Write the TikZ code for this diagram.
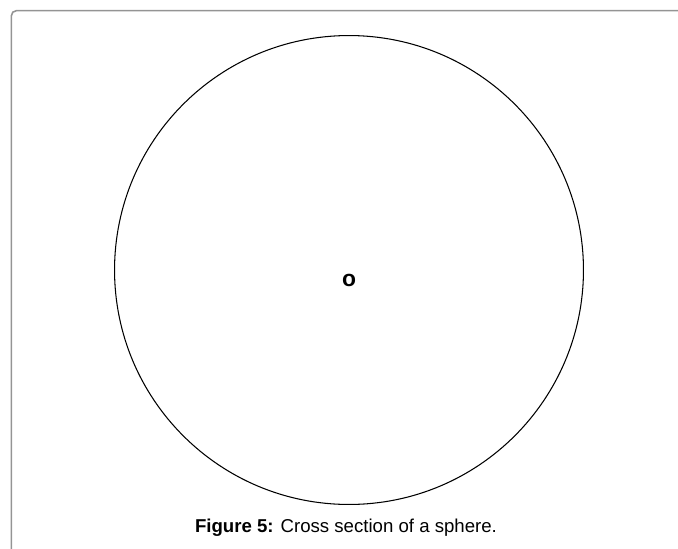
\documentclass[tikz,border=0pt]{standalone}
\usepackage{fontspec}
\setmainfont{Liberation Sans}
\tikzset{
  frameline/.style={draw=black!42, line width=0.9pt, rounded corners=3pt},
  sphereline/.style={draw=black, line width=0.6pt},
}
\begin{document}
\begin{tikzpicture}[x=0.02cm, y=-0.02cm]
  \useasboundingbox (0,0) rectangle (678,548);
  % frame of the figure box (runs off to the right and bottom)
  \begin{scope}
    \clip (0,0) rectangle (678,548);
    \draw[frameline] (11.3,700) -- (11.3,10.6) -- (800,10.6);
  \end{scope}
  % cross section
  \node[sphereline, circle, inner sep=0pt, minimum size=9.38cm] (sphere) at (349,270) {};
  \node[font=\fontsize{13}{14}\selectfont\bfseries] (centre) at (349,280) {o};
  \node[font=\fontsize{10.6}{12}\selectfont] (caption) at (346,528)
    {\textbf{Figure 5:} Cross section of a sphere.};
\end{tikzpicture}
\end{document}
